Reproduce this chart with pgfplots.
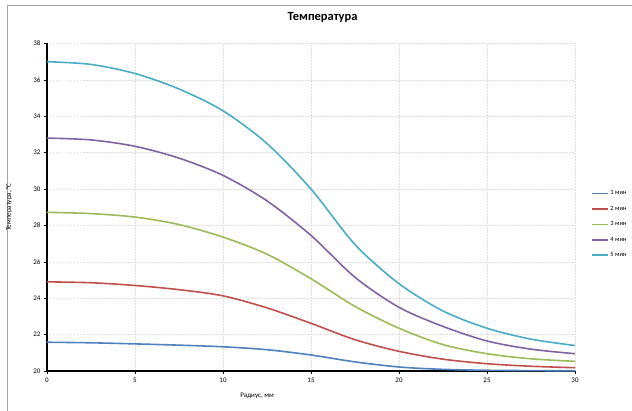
\documentclass[border=0pt]{standalone}
\usepackage{fontspec}
\setmainfont{Carlito}
\usepackage{pgfplots}
\pgfplotsset{compat=1.18}
\definecolor{c1}{HTML}{4F81BD}
\definecolor{c2}{HTML}{C0504D}
\definecolor{c3}{HTML}{9BBB59}
\definecolor{c4}{HTML}{8064A2}
\definecolor{c5}{HTML}{4BACC6}
\begin{document}
\begin{tikzpicture}
\useasboundingbox (0pt,0pt) rectangle (632pt,411pt);
\fill[white] (0pt,0pt) rectangle (632pt,411pt);
\draw[black!35, line width=1pt] (7pt,0pt) -- (7pt,405pt) -- (632pt,405pt);
\begin{axis}[
  at={(47pt,40pt)}, anchor=south west,
  scale only axis, width=528pt, height=327.5pt,
  xmin=0, xmax=30, ymin=20, ymax=38,
  xtick={0,5,...,30}, ytick={20,22,...,38},
  axis lines=left, axis line style={-, black, line width=1.4pt},
  tick align=outside, major tick length=3pt,
  tick style={black, line width=0.6pt},
  grid=major, grid style={black!13, dash pattern=on 1.5pt off 1.5pt, line width=0.5pt},
  /pgf/number format/assume math mode=true,
  ticklabel style={font=\fontsize{7}{8}\selectfont},
  title={\fontsize{12.5}{14}\selectfont\bfseries Температура},
  title style={at={(axis description cs:0.522,1.06)}, anchor=center},
  xlabel={Радиус, мм}, xlabel style={font=\fontsize{7}{8}\selectfont, at={(axis description cs:0.398,-0.076)}, anchor=center},
  ylabel={Температура, °С}, ylabel style={font=\fontsize{7}{8}\selectfont, at={(axis description cs:-0.072,0.5)}, anchor=center},
  legend style={draw=none, fill=none, font=\fontsize{6.5}{7}\selectfont, at={(axis description cs:1.024,0.563)}, anchor=north west, row sep=5.7pt},
  legend cell align=left,
  legend image code/.code={\draw[#1, line width=1.6pt] (0pt,0pt) -- (16pt,0pt);},
  every axis plot/.append style={line width=1.6pt, smooth, no markers},
  clip=false,
]
\addplot[c1] coordinates {(0,21.58) (2.5,21.55) (5,21.49) (7.5,21.42) (10,21.33) (12.5,21.17) (15,20.88) (17.5,20.5) (20,20.22) (22.5,20.09) (25,20.04) (27.5,20.02) (30,20.01)};
\addplot[c2] coordinates {(0,24.9) (2.5,24.85) (5,24.7) (7.5,24.47) (10,24.13) (12.5,23.47) (15,22.62) (17.5,21.72) (20,21.08) (22.5,20.65) (25,20.4) (27.5,20.26) (30,20.18)};
\addplot[c3] coordinates {(0,28.72) (2.5,28.65) (5,28.46) (7.5,28.05) (10,27.36) (12.5,26.42) (15,25.07) (17.5,23.55) (20,22.35) (22.5,21.45) (25,20.95) (27.5,20.67) (30,20.53)};
\addplot[c4] coordinates {(0,32.8) (2.5,32.7) (5,32.35) (7.5,31.7) (10,30.75) (12.5,29.35) (15,27.45) (17.5,25.15) (20,23.5) (22.5,22.45) (25,21.65) (27.5,21.2) (30,20.95)};
\addplot[c5] coordinates {(0,37.0) (2.5,36.85) (5,36.35) (7.5,35.5) (10,34.3) (12.5,32.5) (15,30.0) (17.5,26.95) (20,24.8) (22.5,23.3) (25,22.35) (27.5,21.75) (30,21.4)};
\legend{1 мин, 2 мин, 3 мин, 4 мин, 5 мин}
\end{axis}
\end{tikzpicture}
\end{document}
